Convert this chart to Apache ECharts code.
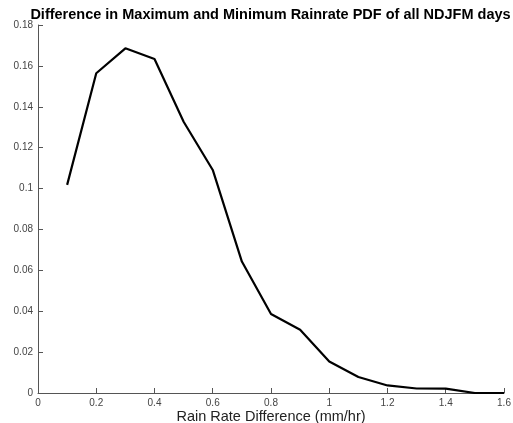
<!DOCTYPE html>
<html><head><meta charset="utf-8">
<script src="https://cdn.jsdelivr.net/npm/echarts@6/dist/echarts.min.js"></script>
<style>html,body{margin:0;padding:0;background:#fff}#c{width:513px;height:423px}</style>
</head><body><div id="c"></div>
<script>
const xValues = [0.1,0.2,0.3,0.4,0.5,0.6,0.7,0.8,0.9,1.0,1.1,1.2,1.3,1.4,1.5,1.6];
const pdfValues = [0.1018,0.1564,0.1686,0.1634,0.1327,0.1091,0.0643,0.0386,0.0309,0.0154,0.0078,0.0037,0.0022,0.0021,0.0,0.0];
const titleText = 'Difference in Maximum and Minimum Rainrate PDF of all NDJFM days';
const xName = 'Rain Rate Difference (mm/hr)';

const chart = echarts.init(document.getElementById('c'), null, {renderer:'canvas'});
const axisCol = '#555';
chart.setOption({
  animation:false,
  backgroundColor:'#fff',
  title:{text:titleText,left:265.5,textAlign:'center',top:2,
    textStyle:{fontFamily:'Liberation Sans',fontWeight:'bold',fontSize:14.5,color:'#000'}},
  grid:{left:38,right:9,top:25,bottom:30,containLabel:false,outerBoundsMode:'none'},
  xAxis:{type:'value',min:0,max:1.6,interval:0.2,
    name:xName,nameLocation:'middle',nameGap:16.5,nameMoveOverlap:false,
    nameTextStyle:{fontFamily:'Liberation Sans',fontSize:14.5,color:'#222'},
    axisLine:{show:true,lineStyle:{color:axisCol,width:1}},
    axisTick:{show:true,inside:true,length:5,lineStyle:{color:axisCol}},
    axisLabel:{fontFamily:'Liberation Sans',fontSize:10,color:'#444',margin:5,
      formatter:v=>String(Math.round(v*10)/10)},
    splitLine:{show:false}},
  yAxis:{type:'value',min:0,max:0.18,interval:0.02,
    axisLine:{show:true,lineStyle:{color:axisCol,width:1}},
    axisTick:{show:true,inside:true,length:5,lineStyle:{color:axisCol}},
    axisLabel:{fontFamily:'Liberation Sans',fontSize:10,color:'#444',margin:5,
      formatter:v=>String(Math.round(v*100)/100)},
    splitLine:{show:false}},
  series:[{type:'line',data:xValues.map((x,i)=>[x,pdfValues[i]]),
    showSymbol:false,lineStyle:{color:'#000',width:2.2},itemStyle:{color:'#000'}}]
});
</script></body></html>
